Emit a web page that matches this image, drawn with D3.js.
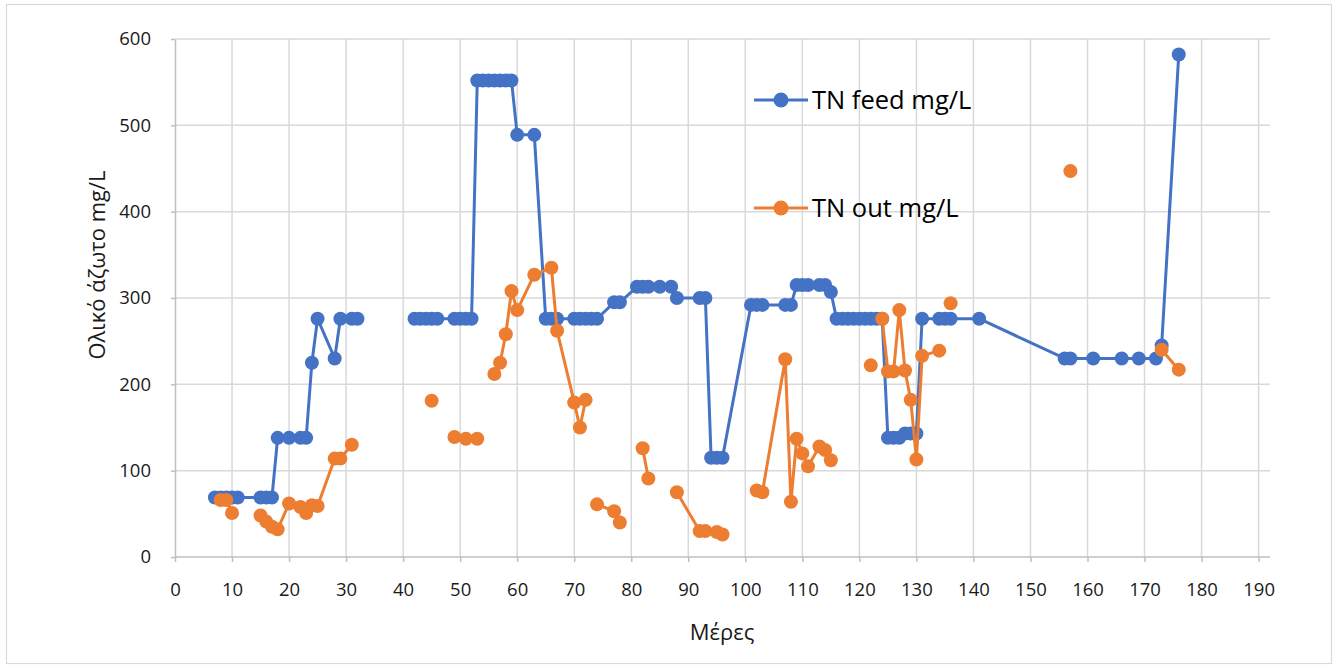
<!DOCTYPE html>
<html>
<head>
<meta charset="utf-8">
<script src="https://cdn.jsdelivr.net/npm/d3@7/dist/d3.min.js"></script>
<style>
  html, body { margin: 0; padding: 0; background: #fff; }
  svg { display: block; }
  text { font-family: "Open Sans", "Noto Sans", sans-serif; }
</style>
</head>
<body>
<svg id="chart" width="1338" height="668"></svg>
<script>
// Total nitrogen in the feed, by day (null marks a break in the line)
const feedDays = [7, 8, 9, 10, 11, 15, 16, 17, 18, 20, 22, 23, 24, 25, 28, 29, 31, 32, 36,
  42, 43, 44, 45, 46, 49, 50, 51, 52, 53, 54, 55, 56, 57, 58, 59, 60, 63, 65, 66, 67,
  70, 71, 72, 73, 74, 77, 78, 81, 82, 83, 85, 87, 88, 92, 93, 94, 95, 96, 101, 102, 103,
  107, 108, 109, 110, 111, 113, 114, 115, 116, 117, 118, 119, 120, 121, 122, 123, 124,
  125, 126, 127, 128, 129, 130, 131, 134, 135, 136, 141, 156, 157, 161, 166, 169, 172, 173, 176];
const feedValues = [69, 69, 69, 69, 69, 69, 69, 69, 138, 138, 138, 138, 225, 276, 230, 276, 276, 276, null,
  276, 276, 276, 276, 276, 276, 276, 276, 276, 552, 552, 552, 552, 552, 552, 552, 489, 489, 276, 276, 276,
  276, 276, 276, 276, 276, 295, 295, 313, 313, 313, 313, 313, 300, 300, 300, 115, 115, 115, 292, 292, 292,
  292, 292, 315, 315, 315, 315, 315, 307, 276, 276, 276, 276, 276, 276, 276, 276, 276,
  138, 138, 138, 143, 143, 143, 276, 276, 276, 276, 276, 230, 230, 230, 230, 230, 230, 245, 582];

// Total nitrogen in the effluent, by day (null marks a break in the line)
const outDays = [8, 9, 10, 12, 15, 16, 17, 18, 20, 22, 23, 24, 25, 28, 29, 31, 38, 45, 47,
  49, 51, 53, 54, 56, 57, 58, 59, 60, 63, 66, 67, 70, 71, 72, 73, 74, 77, 78, 80, 82, 83, 85,
  88, 92, 93, 95, 96, 99, 102, 103, 107, 108, 109, 110, 111, 113, 114, 115, 118, 122, 123,
  124, 125, 126, 127, 128, 129, 130, 131, 134, 135, 136, 140, 157, 165, 173, 176];
const outValues = [66, 66, 51, null, 48, 41, 35, 32, 62, 58, 51, 60, 59, 114, 114, 130, null, 181, null,
  139, 137, 137, null, 212, 225, 258, 308, 286, 327, 335, 262, 179, 150, 182, null, 61, 53, 40, null, 126, 91, null,
  75, 30, 30, 29, 26, null, 77, 75, 229, 64, 137, 120, 105, 128, 124, 112, null, 222, null,
  276, 215, 215, 286, 216, 182, 113, 233, 239, null, 294, null, 447, null, 240, 217];

const seriesNames = ["TN feed mg/L", "TN out mg/L"];
const seriesColors = ["#4472C4", "#ED7D31"];
const xTicks = d3.range(0, 191, 10);
const yTicks = d3.range(0, 601, 100);
const xTitle = "Μέρες";
const yTitle = "Ολικό άζωτο mg/L";

const series = [
  { name: seriesNames[0], color: seriesColors[0], points: feedDays.map((d, i) => ({ x: d, y: feedValues[i] })) },
  { name: seriesNames[1], color: seriesColors[1], points: outDays.map((d, i) => ({ x: d, y: outValues[i] })) }
];

const svg = d3.select("#chart");
const W = 1338, H = 668;
const plot = { left: 175, right: 1270, top: 39, bottom: 557 };

// chart-area frame
svg.append("rect")
  .attr("x", 6.5).attr("y", 4.5)
  .attr("width", W - 13).attr("height", H - 9)
  .attr("fill", "#fff").attr("stroke", "#d9d9d9").attr("stroke-width", 1.2);

const x = d3.scaleLinear().domain([0, 192]).range([plot.left, plot.right]);
const y = d3.scaleLinear().domain([0, 600]).range([plot.bottom, plot.top]);

// gridlines
const grid = svg.append("g");
grid.selectAll("line.h").data(yTicks.filter(t => t > 0)).join("line")
  .attr("x1", plot.left).attr("x2", plot.right)
  .attr("y1", d => y(d)).attr("y2", d => y(d))
  .attr("stroke", "#d9d9d9").attr("stroke-width", 1.5);
grid.selectAll("line.v").data(xTicks.filter(t => t > 0)).join("line")
  .attr("y1", plot.top).attr("y2", plot.bottom)
  .attr("x1", d => x(d)).attr("x2", d => x(d))
  .attr("stroke", "#d9d9d9").attr("stroke-width", 1.5);

// axes
const xAxis = svg.append("g")
  .attr("transform", `translate(0,${plot.bottom})`)
  .call(d3.axisBottom(x).tickValues(xTicks).tickSize(5).tickPadding(21).tickSizeOuter(0));
const yAxis = svg.append("g")
  .attr("transform", `translate(${plot.left},0)`)
  .call(d3.axisLeft(y).tickValues(yTicks).tickSize(4).tickPadding(20).tickSizeOuter(0));

[xAxis, yAxis].forEach(g => {
  g.select(".domain").attr("stroke", "#bfbfbf").attr("stroke-width", 1.5);
  g.selectAll(".tick line").attr("stroke", "#bfbfbf").attr("stroke-width", 1.5);
  g.selectAll(".tick text").attr("fill", "#1a1a1a")
    .style("font-family", '"Open Sans", sans-serif').style("font-size", "18.5px");
});
xAxis.select(".domain").attr("d", `M${plot.left},0H${plot.right}`);

// axis titles
svg.append("text")
  .attr("x", 722).attr("y", 640)
  .attr("text-anchor", "middle")
  .attr("fill", "#1a1a1a").style("font-size", "22px")
  .text(xTitle);
svg.append("text")
  .attr("transform", `translate(105,${(plot.top + plot.bottom) / 2 - 33}) rotate(-90)`)
  .attr("text-anchor", "middle")
  .attr("fill", "#1a1a1a").style("font-size", "22px")
  .text(yTitle);

// series: lines with gaps, then markers
const line = d3.line()
  .defined(d => d.y != null)
  .x(d => x(d.x)).y(d => y(d.y));

series.forEach(s => {
  const g = svg.append("g");
  g.append("path")
    .datum(s.points)
    .attr("d", line)
    .attr("fill", "none")
    .attr("stroke", s.color)
    .attr("stroke-width", 3)
    .attr("stroke-linejoin", "round");
  g.selectAll("circle")
    .data(s.points.filter(d => d.y != null))
    .join("circle")
    .attr("cx", d => x(d.x)).attr("cy", d => y(d.y))
    .attr("r", 7)
    .attr("fill", s.color);
});

// legend
const legend = svg.append("g");
const legendRows = [{ s: series[0], cy: 100 }, { s: series[1], cy: 208 }];
legendRows.forEach(r => {
  legend.append("line")
    .attr("x1", 754).attr("x2", 808).attr("y1", r.cy).attr("y2", r.cy)
    .attr("stroke", r.s.color).attr("stroke-width", 3);
  legend.append("circle")
    .attr("cx", 781).attr("cy", r.cy).attr("r", 7.5).attr("fill", r.s.color);
  legend.append("text")
    .attr("x", 812).attr("y", r.cy + 9)
    .attr("fill", "#000").style("font-size", "25.5px")
    .text(r.s.name);
});
</script>
</body>
</html>
